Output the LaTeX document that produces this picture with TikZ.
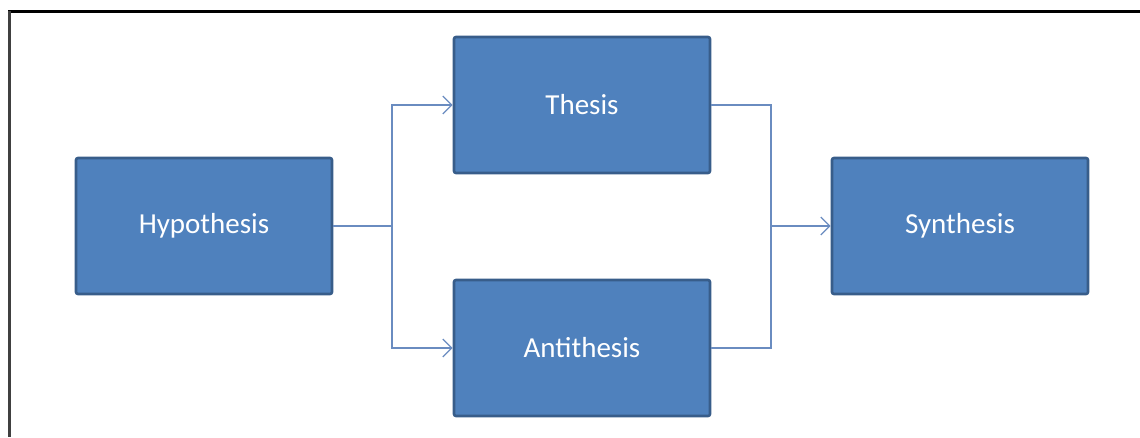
\documentclass[tikz,border=0pt]{standalone}
\usepackage{fontspec}
\setmainfont{Carlito}
\usetikzlibrary{arrows.meta}
\definecolor{boxfill}{HTML}{4F81BD}
\definecolor{boxline}{HTML}{385D8A}
\definecolor{linkcol}{HTML}{6A8CC0}
\begin{document}
\begin{tikzpicture}[x=1pt,y=-1pt,
  stagebox/.style={draw=boxline, line width=2.6pt, fill=boxfill, rounded corners=2pt,
    minimum width=256pt, minimum height=136pt, inner sep=0pt,
    text=white, font=\fontsize{29}{34}\selectfont},
  link/.style={draw=linkcol, line width=1.3pt},
  flow/.style={link, -{Straight Barb[length=9pt,width=18pt,line width=1.3pt]}}]
\useasboundingbox (0,0) rectangle (1140,437);
% page frame: top and left rules
\draw[black, line width=3pt] (8,11) -- (1140,11);
\draw[black!75, line width=3pt] (9,11) -- (9,437);
% stages
\node[stagebox] (hyp) at (204,226) {Hypothesis};
\node[stagebox] (the) at (582,105) {Thesis};
\node[stagebox] (ant) at (582,348) {Antithesis};
\node[stagebox] (syn) at (960,226) {Synthesis};
% split from the hypothesis
\coordinate (split) at (392,226);
\draw[link] (hyp.east) -- (split);
\draw[flow] (split) |- (the.west);
\draw[flow] (split) |- (ant.west);
% merge into the synthesis
\coordinate (merge) at (771,226);
\draw[link] (the.east) -| (merge);
\draw[link] (ant.east) -| (merge);
\draw[flow] (merge) -- (syn.west);
\end{tikzpicture}
\end{document}
